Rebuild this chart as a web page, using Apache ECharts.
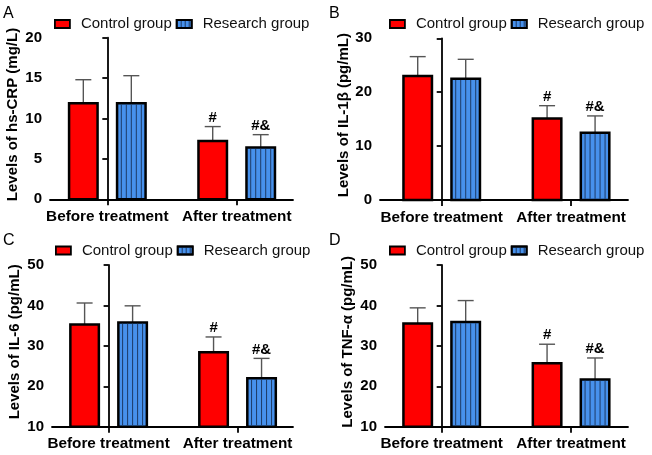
<!DOCTYPE html>
<html><head><meta charset="utf-8">
<script src="https://cdn.jsdelivr.net/npm/echarts@6/dist/echarts.min.js"></script>
<style>html,body{margin:0;padding:0;background:#fff}#c{width:652px;height:455px}</style>
</head><body><div id="c"></div>
<script>
// ---- data ----
const categories = ['Before treatment', 'After treatment'];
const groupNames = ['Control group', 'Research group'];
const panelLetters = ['A', 'B', 'C', 'D'];
const yAxisNames = ['Levels of hs-CRP (mg/L)', 'Levels of IL-1β (pg/mL)', 'Levels of IL-6 (pg/mL)', 'Levels of TNF-α (pg/mL)'];
const yMins = [0, 0, 10, 10];
const yMaxs = [20, 30, 50, 50];
const yIntervals = [5, 10, 10, 10];

const hsCRP_control = [11.9, 7.2];
const hsCRP_controlSD = [2.9, 1.8];
const hsCRP_research = [11.9, 6.4];
const hsCRP_researchSD = [3.4, 1.6];

const IL1b_control = [23.0, 15.1];
const IL1b_controlSD = [3.6, 2.4];
const IL1b_research = [22.5, 12.5];
const IL1b_researchSD = [3.6, 3.1];

const IL6_control = [35.3, 28.4];
const IL6_controlSD = [5.3, 3.8];
const IL6_research = [35.8, 22.0];
const IL6_researchSD = [4.1, 4.9];

const TNFa_control = [35.5, 25.7];
const TNFa_controlSD = [3.9, 4.7];
const TNFa_research = [35.9, 21.7];
const TNFa_researchSD = [5.3, 5.3];

const controlMarks = ['', '#'];
const researchMarks = ['', '#&'];

const panelData = [
  [hsCRP_control, hsCRP_controlSD, hsCRP_research, hsCRP_researchSD],
  [IL1b_control, IL1b_controlSD, IL1b_research, IL1b_researchSD],
  [IL6_control, IL6_controlSD, IL6_research, IL6_researchSD],
  [TNFa_control, TNFa_controlSD, TNFa_research, TNFa_researchSD]
];

// ---- layout / style ----
const FONT = '"Liberation Sans", Arial, sans-serif';
const RED = '#ff0000';
const BLUE = '#4791ec';
const STRIPE = '#1d3a66';
const layout = [
  {left: 50, top: 37.7, width: 243, height: 161.6, xMin: -0.443, xMax: 1.435, lx: 54, ly: 16.5, tx: 3, ty: 6, nameGap: 30},
  {left: 380, top: 38.3, width: 248, height: 161.7, xMin: -0.477, xMax: 1.44, lx: 389, ly: 16.5, tx: 329, ty: 6, nameGap: 26},
  {left: 52, top: 265, width: 241, height: 161.7, xMin: -0.439, xMax: 1.43, lx: 55, ly: 243, tx: 3, ty: 233, nameGap: 30},
  {left: 385, top: 265, width: 243, height: 161.7, xMin: -0.438, xMax: 1.44, lx: 389, ly: 243, tx: 329, ty: 233, nameGap: 30}
];

function makeRenderer(pi, gi) {
  const offset = gi === 0 ? -24 : 24;
  const marks = gi === 0 ? controlMarks : researchMarks;
  const fill = gi === 0 ? RED : BLUE;
  return function (params, api) {
    const xi = api.value(0), v = api.value(1), sd = api.value(2);
    const p = api.coord([xi, v]);
    const b = api.coord([xi, yMins[pi]]);
    const e = api.coord([xi, v + sd]);
    const cx = p[0] + offset;
    const half = 14.25;
    const ch = [];
    ch.push({type: 'line', shape: {x1: cx, y1: p[1], x2: cx, y2: e[1]}, style: {stroke: '#555', lineWidth: 1.4}});
    ch.push({type: 'line', shape: {x1: cx - 8, y1: e[1], x2: cx + 8, y2: e[1]}, style: {stroke: '#555', lineWidth: 1.4}});
    ch.push({type: 'rect', shape: {x: cx - half, y: p[1], width: half * 2, height: b[1] - p[1]}, style: {fill: fill, stroke: '#000', lineWidth: 2.5}});
    if (gi === 1) {
      [-10, -5, 0, 5, 10].forEach(function (d) {
        ch.push({type: 'line', shape: {x1: cx + d, y1: p[1] + 1.25, x2: cx + d, y2: b[1] - 1.25}, style: {stroke: STRIPE, lineWidth: 1}});
      });
    }
    const mark = marks[params.dataIndex];
    if (mark) {
      ch.push({type: 'text', style: {text: mark, x: cx, y: e[1] - 1.5, textAlign: 'center', textVerticalAlign: 'bottom', font: 'bold 15px ' + FONT, fill: '#000'}});
    }
    return {type: 'group', children: ch};
  };
}

const option = {animation: false, grid: [], xAxis: [], yAxis: [], series: [], legend: [], title: []};

layout.forEach(function (L, pi) {
  option.grid.push({left: L.left, top: L.top, width: L.width, height: L.height});
  option.xAxis.push({
    type: 'value', gridIndex: pi, min: L.xMin, max: L.xMax,
    splitLine: {show: false},
    axisLine: {show: true, lineStyle: {color: '#000', width: 1.8}},
    axisTick: {show: true, customValues: [0, 1], length: 6, lineStyle: {color: '#000', width: 1.8}},
    axisLabel: {show: true, customValues: [0, 1], margin: 10, formatter: function (v) { return categories[Math.round(v)]; },
      color: '#000', fontFamily: FONT, fontWeight: 'bold', fontSize: 15.3}
  });
  option.yAxis.push({
    type: 'value', gridIndex: pi, min: yMins[pi], max: yMaxs[pi], interval: yIntervals[pi],
    name: yAxisNames[pi], nameLocation: 'middle', nameGap: L.nameGap,
    nameTextStyle: {color: '#000', fontFamily: FONT, fontWeight: 'bold', fontSize: 15, padding: [0, 0, 0, 8]},
    splitLine: {show: false},
    axisLine: {show: true, lineStyle: {color: '#000', width: 1.8}},
    axisTick: {show: true, length: 5, lineStyle: {color: '#000', width: 1.8}},
    axisLabel: {margin: 8, color: '#000', fontFamily: FONT, fontWeight: 'bold', fontSize: 15}
  });
  const d = panelData[pi];
  [0, 1].forEach(function (gi) {
    const means = d[gi * 2], sds = d[gi * 2 + 1];
    option.series.push({
      type: 'custom', name: groupNames[gi], xAxisIndex: pi, yAxisIndex: pi,
      itemStyle: {color: gi === 0 ? RED : BLUE, borderColor: '#000', borderWidth: 1.8},
      renderItem: makeRenderer(pi, gi),
      encode: {x: 0, y: 1},
      data: categories.map(function (c, i) { return [i, means[i], sds[i]]; })
    });
  });
  option.legend.push({
    left: L.lx, top: L.ly, itemWidth: 15, itemHeight: 8, itemGap: 4, icon: 'rect', padding: 0,
    textStyle: {color: '#111', fontFamily: FONT, fontSize: 15, padding: [0, 0, 0, 6]},
    data: [
      {name: groupNames[0], itemStyle: {color: RED, borderColor: '#000', borderWidth: 1.8}},
      {name: groupNames[1], itemStyle: {color: BLUE, borderColor: '#000', borderWidth: 1.8,
        decal: {symbol: 'rect', symbolSize: 1, color: STRIPE, dashArrayX: [1, 3], dashArrayY: [10, 0], rotation: 0}}}
    ]
  });
  option.title.push({text: panelLetters[pi], left: L.tx, top: L.ty, padding: 0,
    textStyle: {color: '#000', fontFamily: FONT, fontWeight: 'normal', fontSize: 16}});
});

const chart = echarts.init(document.getElementById('c'), null, {renderer: 'canvas'});
chart.setOption(option);
</script>
</body></html>
